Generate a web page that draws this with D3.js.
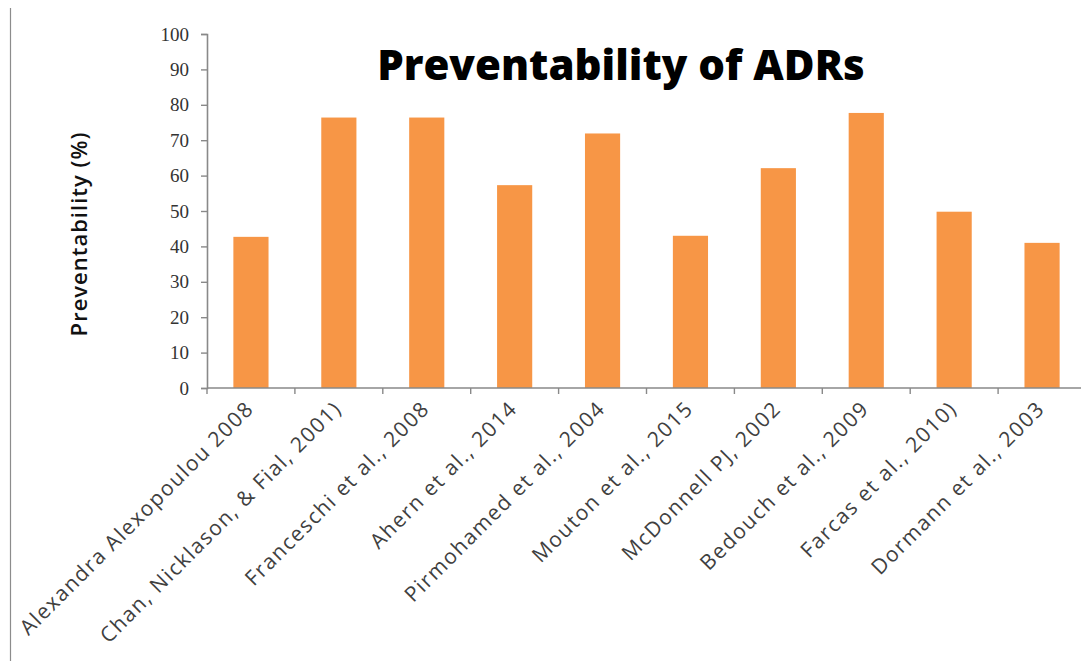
<!DOCTYPE html>
<html>
<head>
<meta charset="utf-8">
<script src="https://cdn.jsdelivr.net/npm/d3@7"></script>
<style>
  html, body { margin: 0; padding: 0; background: #fff; }
  svg { display: block; }
</style>
</head>
<body>
<svg id="chart" width="1081" height="661"></svg>
<script>
// Studies and their reported share of preventable adverse drug reactions
const studies = [
  "Alexandra Alexopoulou 2008",
  "Chan, Nicklason, & Fial, 2001)",
  "Franceschi et al., 2008",
  "Ahern et al., 2014",
  "Pirmohamed et al., 2004",
  "Mouton et al., 2015",
  "McDonnell PJ, 2002",
  "Bedouch et al., 2009",
  "Farcas et al., 2010)",
  "Dormann et al., 2003"
];
const preventability = [42.7, 76.4, 76.4, 57.3, 71.9, 43.0, 62.1, 77.7, 49.8, 41.0];
const yTicks = [0, 10, 20, 30, 40, 50, 60, 70, 80, 90, 100];

const svg = d3.select("#chart");
const axisColor = "#898989";

const x0 = 207, plotTop = 34, plotBottom = 388, bandW = 87.9;
const x = d3.scaleBand()
  .domain(studies)
  .range([x0, x0 + bandW * studies.length])
  .paddingInner(0.6)
  .paddingOuter(0.3);
const y = d3.scaleLinear().domain([0, 100]).range([plotBottom, plotTop]);

// Frame line on the left edge
svg.append("line")
  .attr("x1", 10.5).attr("x2", 10.5).attr("y1", 8).attr("y2", 661)
  .attr("stroke", "#8c8c8c").attr("stroke-width", 1.2);

// Bars
svg.append("g").selectAll("rect")
  .data(studies)
  .join("rect")
  .attr("x", d => x(d))
  .attr("width", x.bandwidth())
  .attr("y", (d, i) => y(preventability[i]))
  .attr("height", (d, i) => y(0) - y(preventability[i]))
  .attr("fill", "#F79646");

// Y axis
const yAxis = svg.append("g")
  .attr("transform", `translate(${x0},0)`)
  .call(d3.axisLeft(y).tickValues(yTicks).tickSize(6).tickPadding(12).tickFormat(d3.format("d")));
yAxis.select(".domain").attr("stroke", axisColor).attr("stroke-width", 1.6);
yAxis.selectAll(".tick line").attr("stroke", axisColor).attr("stroke-width", 1.4);
yAxis.selectAll(".tick text")
  .attr("fill", "#333")
  .style("font-family", "'Liberation Serif', 'DejaVu Serif', serif")
  .style("font-size", "19px");

// X axis with tick marks between categories
const xAxis = svg.append("g").attr("transform", `translate(0,${plotBottom})`);
xAxis.append("line")
  .attr("x1", x0).attr("x2", x0 + bandW * studies.length)
  .attr("stroke", axisColor).attr("stroke-width", 1.6);
xAxis.selectAll("line.tick")
  .data(d3.range(studies.length + 1))
  .join("line")
  .attr("class", "tick")
  .attr("x1", i => x0 + i * bandW).attr("x2", i => x0 + i * bandW)
  .attr("y1", 0).attr("y2", 6)
  .attr("stroke", axisColor).attr("stroke-width", 1.4);
xAxis.selectAll("text")
  .data(studies)
  .join("text")
  .attr("text-anchor", "end")
  .attr("transform", d => `translate(${x(d) + x.bandwidth() / 2 + 4},${22}) rotate(-45)`)
  .attr("fill", "#404040")
  .style("font-family", "'Open Sans', sans-serif")
  .style("font-size", "21px")
  .style("letter-spacing", "1.5px")
  .text(d => d);

// Axis title
svg.append("text")
  .attr("transform", "translate(87,234) rotate(-90)")
  .attr("text-anchor", "middle")
  .attr("fill", "#111")
  .style("font-family", "'Open Sans', sans-serif")
  .style("font-weight", "600")
  .style("font-size", "22px")
  .style("letter-spacing", "1px")
  .text("Preventability (%)");

// Chart title
svg.append("text")
  .attr("x", 621).attr("y", 80)
  .attr("text-anchor", "middle")
  .attr("fill", "#000")
  .style("font-family", "'Open Sans', sans-serif")
  .style("font-weight", "800")
  .style("font-size", "42px")
  .text("Preventability of ADRs");
</script>
</body>
</html>
